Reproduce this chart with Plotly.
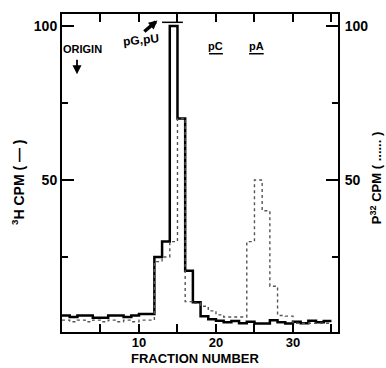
import plotly.graph_objects as go

# ---- data ----
fractions = list(range(1, 36))  # fraction n spans [n-1, n]
h3_cpm = [6.0, 5.5, 6.0, 6.0, 5.3, 5.3, 6.0, 6.0, 5.5, 6.0, 6.5, 6.5,
          25.0, 30.0, 100.0, 70.0, 20.5, 10.3, 5.8, 4.8, 4.3, 3.8, 4.2, 3.5,
          4.0, 3.4, 3.4, 4.5, 3.8, 3.4, 4.0, 3.5, 4.3, 3.8, 4.2]
p32_cpm = [4.5, 4.0, 4.5, 4.0, 4.5, 4.0, 4.5, 4.0, 4.5, 4.0, 4.5, 4.5,
           23.5, 25.0, 30.0, 70.0, 10.5, 10.0, 9.0, 7.5, 6.2, 5.5, 5.5, 5.5,
           30.0, 50.0, 40.0, 15.5, 6.0, 5.8, 3.5, 3.5, 3.5, 3.5, 3.5]
x_major = [10, 20, 30]
x_minor = [5, 15, 25, 35]
y_major = [50, 100]
y_minor = [25, 75]

FONT = "Liberation Sans"


def step_xy(vals):
    xs = [f - 1 for f in fractions] + [fractions[-1]]
    ys = list(vals) + [vals[-1]]
    return xs, ys


fig = go.Figure()
xs, ys = step_xy(p32_cpm)
fig.add_trace(go.Scatter(x=xs, y=ys, mode="lines", line_shape="hv", yaxis="y2",
                         line=dict(color="#555", width=1.4, dash="dot"), showlegend=False))
xs, ys = step_xy(h3_cpm)
fig.add_trace(go.Scatter(x=xs, y=ys, mode="lines", line_shape="hv",
                         line=dict(color="black", width=2.5), showlegend=False))

yr = [0.65, 103.9]
axis_common = dict(showgrid=False, zeroline=False, showline=True, linecolor="black",
                   linewidth=2, ticks="inside", tickcolor="black", tickwidth=2)

fig.update_layout(
    width=386, height=368, margin=dict(l=62, r=48, t=12, b=36),
    paper_bgcolor="white", plot_bgcolor="white",
    font=dict(family=FONT, size=14, color="black", weight="bold"),
    xaxis=dict(range=[0, 35.85], tickvals=x_major, ticklen=8, mirror="allticks",
               minor=dict(tickvals=x_minor, ticklen=6, ticks="inside", tickcolor="black", tickwidth=1.5),
               tickfont=dict(size=13, weight="bold"), ticklabelstandoff=-3, **axis_common),
    yaxis=dict(range=yr, tickvals=y_major, ticklen=12,
               minor=dict(tickvals=y_minor, ticklen=6, ticks="inside", tickcolor="black", tickwidth=1.5),
               tickfont=dict(size=14, weight="bold"), ticklabelstandoff=0, **axis_common),
    yaxis2=dict(range=yr, overlaying="y", side="right", tickvals=y_major, ticklen=12,
                minor=dict(tickvals=y_minor, ticklen=6, ticks="inside", tickcolor="black", tickwidth=1.5),
                tickfont=dict(size=14, weight="bold"), ticklabelstandoff=2, **axis_common),
)

ann = []
# axis titles
ann.append(dict(text="FRACTION NUMBER", xref="paper", yref="paper", x=0.482, y=-0.112,
                showarrow=False, font=dict(size=13, weight="bold"), xanchor="center", yanchor="bottom"))
ann.append(dict(text="<sup>3</sup>H CPM ( — )", xref="paper", yref="paper", x=-0.159, y=0.472,
                textangle=-90, showarrow=False, font=dict(size=14, weight="bold"),
                xanchor="center", yanchor="middle"))
ann.append(dict(text="P<sup>32</sup> CPM ( ...... )", xref="paper", yref="paper", x=1.138, y=0.484,
                textangle=-90, showarrow=False, font=dict(size=13, weight="bold"),
                xanchor="center", yanchor="middle"))
# labels in plot
ann.append(dict(text="ORIGIN", x=2.7, y=92.6, showarrow=False, font=dict(size=11, weight="bold")))
ann.append(dict(text="", x=1.95, y=84.3, ax=1.95, ay=89.5, axref="x", ayref="y",
                showarrow=True, arrowhead=2, arrowsize=1, arrowwidth=1.8, arrowcolor="black"))
ann.append(dict(text="pG,pU", x=10.2, y=95.5, showarrow=False, textangle=-6,
                font=dict(size=12, weight="bold")))
ann.append(dict(text="", x=12.4, y=101.8, ax=10.5, ay=97.8, axref="x", ayref="y",
                showarrow=True, arrowhead=2, arrowsize=0.5, arrowwidth=3.5, arrowcolor="black"))
ann.append(dict(text="pC", x=20.0, y=93.5, showarrow=False, font=dict(size=11, weight="bold")))
ann.append(dict(text="pA", x=25.2, y=93.5, showarrow=False, font=dict(size=11, weight="bold")))
fig.update_layout(annotations=ann)

shapes = [
    dict(type="line", x0=13.0, x1=15.7, y0=101.2, y1=101.2, line=dict(color="black", width=1.5)),
    dict(type="line", x0=19.1, x1=20.9, y0=91.0, y1=91.0, line=dict(color="black", width=1.5)),
    dict(type="line", x0=24.3, x1=26.2, y0=91.0, y1=91.0, line=dict(color="black", width=1.5)),
]
fig.update_layout(shapes=shapes)

fig.write_html("out.html")
